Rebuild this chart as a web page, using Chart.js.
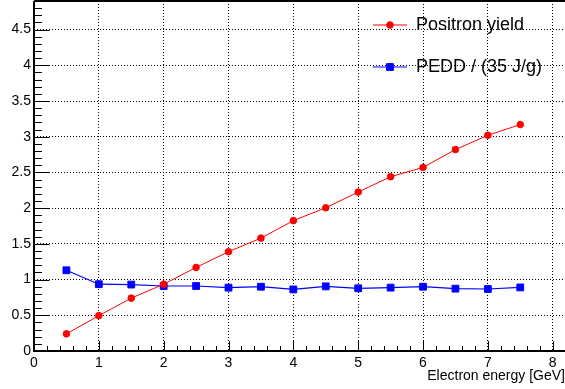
<!DOCTYPE html>
<html>
<head>
<meta charset="utf-8">
<script src="https://cdn.jsdelivr.net/npm/chart.js@4.4.0/dist/chart.umd.min.js"></script>
<style>
  html, body { margin: 0; padding: 0; background: #fff; }
  canvas { display: block; }
</style>
</head>
<body>
<canvas id="c" width="565" height="389"></canvas>
<script>
const energies = [0.5, 1, 1.5, 2, 2.5, 3, 3.5, 4, 4.5, 5, 5.5, 6, 6.5, 7, 7.5];
const positronYield = [0.24, 0.495, 0.74, 0.935, 1.17, 1.39, 1.58, 1.825, 2.005, 2.225, 2.44, 2.57, 2.82, 3.02, 3.17];
const pedd = [1.13, 0.935, 0.93, 0.91, 0.91, 0.887, 0.9, 0.862, 0.905, 0.878, 0.887, 0.9, 0.873, 0.868, 0.89];
const seriesLabels = ["Positron yield", "PEDD / (35 J/g)"];
const xTicks = [0, 1, 2, 3, 4, 5, 6, 7, 8];
const yTicks = [0, 0.5, 1, 1.5, 2, 2.5, 3, 3.5, 4, 4.5];
const xTitle = "Electron energy [GeV]";

const FONT = "'Liberation Sans', Arial, Helvetica, sans-serif";

// ROOT-style frame: inward ticks with minor divisions, solid axes
const rootFrame = {
  id: "rootFrame",
  beforeDatasetsDraw(chart) {
    const { ctx, chartArea: a, scales: { x, y } } = chart;
    ctx.save();
    ctx.strokeStyle = "#000";
    ctx.lineWidth = 1;
    ctx.beginPath();
    for (let i = 1; i * 0.1 <= y.max + 1e-9; i++) {
      const py = Math.round(y.getPixelForValue(i * 0.1)) + 0.5;
      const len = i % 5 === 0 ? 15.5 : 8;
      ctx.moveTo(a.left, py);
      ctx.lineTo(a.left + len, py);
    }
    for (let i = 1; i * 0.2 <= x.max + 1e-9; i++) {
      const px = Math.round(x.getPixelForValue(i * 0.2)) + 0.5;
      const len = i % 5 === 0 ? 10 : 5;
      ctx.moveTo(px, a.bottom);
      ctx.lineTo(px, a.bottom - len);
    }
    ctx.stroke();
    ctx.lineWidth = 2;
    ctx.beginPath();
    ctx.moveTo(a.left, a.top);
    ctx.lineTo(a.right, a.top);
    ctx.moveTo(a.left, a.top);
    ctx.lineTo(a.left, a.bottom);
    ctx.lineTo(a.right, a.bottom);
    ctx.stroke();
    ctx.restore();
  },
  afterDraw(chart) {
    const { ctx } = chart;
    ctx.save();
    chart.data.datasets.forEach((ds, i) => {
      const cy = 25 + i * 42;
      ctx.strokeStyle = ds.borderColor;
      ctx.fillStyle = ds.backgroundColor;
      ctx.lineWidth = 1;
      ctx.beginPath();
      ctx.moveTo(373, cy);
      ctx.lineTo(407, cy);
      ctx.stroke();
      Chart.helpers.drawPoint(ctx, {
        pointStyle: ds.pointStyle, radius: ds.pointRadius, rotation: 0, borderWidth: 1
      }, 390, cy);
      ctx.fillStyle = "#000";
      ctx.font = "18px " + FONT;
      ctx.textBaseline = "middle";
      ctx.textAlign = "left";
      ctx.fillText(ds.label, 416, cy);
    });
    ctx.restore();
  }
};

new Chart(document.getElementById("c"), {
  type: "line",
  data: {
    datasets: [
      {
        label: seriesLabels[0],
        data: energies.map((e, i) => ({ x: e, y: positronYield[i] })),
        borderColor: "#ff0000",
        backgroundColor: "#ff0000",
        borderWidth: 1,
        pointStyle: "circle",
        pointRadius: 3.3,
        pointBorderWidth: 1,
      },
      {
        label: seriesLabels[1],
        data: energies.map((e, i) => ({ x: e, y: pedd[i] })),
        borderColor: "#0000ff",
        backgroundColor: "#0000ff",
        borderWidth: 1.2,
        pointStyle: "rect",
        pointRadius: 4.8,
        pointBorderWidth: 1,
      },
    ],
  },
  options: {
    responsive: false,
    animation: false,
    devicePixelRatio: 1,
    layout: { autoPadding: false, padding: { top: 1, left: 0, right: 0, bottom: 0 } },
    plugins: { legend: { display: false }, tooltip: { enabled: false } },
    scales: {
      x: {
        type: "linear",
        min: 0,
        max: 8.19,
        afterBuildTicks: (s) => { s.ticks = xTicks.map((v) => ({ value: v })); },
        afterFit: (s) => { s.height = 38; s.paddingLeft = 0; s.paddingRight = 0; },
        grid: { color: "#000", lineWidth: 1, drawTicks: false },
        border: { display: false, dash: [1, 2] },
        ticks: { padding: 4, color: "#000", font: { family: FONT, size: 14 }, maxRotation: 0, autoSkip: false, callback: (v) => String(v) },
        title: { display: true, text: xTitle, align: "end", color: "#000", font: { family: FONT, size: 14 }, padding: { top: 0, bottom: 4 } },
      },
      y: {
        type: "linear",
        min: 0,
        max: 4.9,
        afterBuildTicks: (s) => { s.ticks = yTicks.map((v) => ({ value: v })); },
        afterFit: (s) => { s.width = 34; s.paddingTop = 0; s.paddingBottom = 0; },
        grid: { color: "#000", lineWidth: 1, drawTicks: false },
        border: { display: false, dash: [1, 2] },
        ticks: { padding: 3, color: "#000", font: { family: FONT, size: 14 }, autoSkip: false, callback: (v) => String(v) },
      },
    },
  },
  plugins: [rootFrame],
});
</script>
</body>
</html>
